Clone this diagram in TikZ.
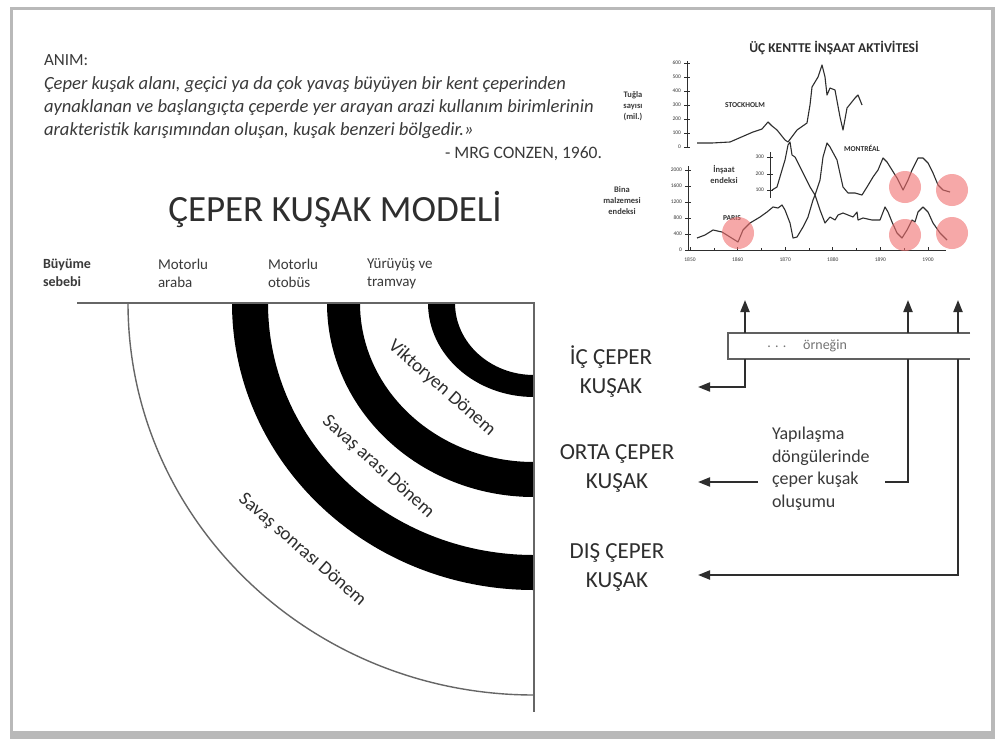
\documentclass[tikz,border=0pt]{standalone}
\usepackage{fontspec}
\setmainfont{Carlito}
\usetikzlibrary{arrows.meta}
\definecolor{txt}{HTML}{3A3A3A}
\definecolor{ink}{HTML}{2E2E2E}
\definecolor{dot}{HTML}{F06E6E}
\begin{document}
\begin{tikzpicture}[x=1pt,y=-1pt,
  every node/.style={inner sep=0pt, outer sep=0pt, text=txt},
  conn/.style={draw=ink, line width=2pt},
  arr/.style={conn, -{Triangle[length=12pt,width=9pt]}},
  thin/.style={draw=gray!80!black, line width=1.4pt},
  band/.style={fill=black},
  zone/.style={font=\fontsize{23}{29}\selectfont, align=center, text=ink},
  col/.style={anchor=north west, align=left, font=\fontsize{15}{18}\selectfont},
  period/.style={font=\fontsize{19}{22}\selectfont, text=ink},
  para/.style={anchor=base west, font=\itshape\fontsize{18.6}{20}\selectfont},
  tiny/.style={font=\fontsize{5.5}{6}\selectfont},
  clab/.style={font=\bfseries\fontsize{8.5}{11}\selectfont, align=center},
  curve/.style={draw=ink, line width=1.1pt, line join=round},
  ring/.style={fill=dot, fill opacity=0.6}
]
\useasboundingbox (0,0) rectangle (995,739);
% slide with shadow
\fill[white] (0,0) rectangle (995,739);
\fill[gray!55] (10,7) rectangle (995,739);
\fill[white] (13,10) rectangle (991,731);

% definition text
\node[anchor=base west, font=\fontsize{17}{20}\selectfont] (anim) at (44,65) {ANIM:};
\node[para] (d1) at (44,89) {Çeper kuşak alanı, geçici ya da çok yavaş büyüyen bir kent çeperinden};
\node[para] (d2) at (44,112) {aynaklanan ve başlangıçta çeperde yer arayan arazi kullanım birimlerinin};
\node[para] (d3) at (44,135) {arakteristik karışımından oluşan, kuşak benzeri bölgedir.»};
\node[anchor=base east, font=\fontsize{17.5}{20}\selectfont] (mrg) at (602,158) {- MRG CONZEN, 1960.};

% title
\node[anchor=base, font=\fontsize{37}{40}\selectfont, text=ink] (title) at (335,221) {ÇEPER KUŞAK MODELİ};

% column labels
\node[col, font=\bfseries\fontsize{14}{18}\selectfont] (c0) at (43,259) {Büyüme\\sebebi};
\node[col] (c1) at (158,259) {Motorlu\\araba};
\node[col] (c2) at (268,259) {Motorlu\\otobüs};
\node[col] (c3) at (367,259) {Yürüyüş ve\\tramvay};

% quadrant model
\fill[band] (232,303) arc[start angle=180,end angle=90,x radius=302,y radius=287] -- (534,555) arc[start angle=90,end angle=180,x radius=266,y radius=252] -- cycle;
\fill[band] (327,303) arc[start angle=180,end angle=90,x radius=207,y radius=194] -- (534,462) arc[start angle=90,end angle=180,x radius=174,y radius=159] -- cycle;
\fill[band] (428,303) arc[start angle=180,end angle=90,x radius=106,y radius=94] -- (534,375) arc[start angle=90,end angle=180,x radius=79,y radius=72] -- cycle;
\draw[thin] (128,303) arc[start angle=180,end angle=90,x radius=406,y radius=392];
\draw[thin] (77,303) -- (534,303) -- (534,712);

\node[period, rotate=-41] (vik) at (442,388) {Viktoryen Dönem};
\node[period, rotate=-42] (sa) at (378,467) {Savaş arası Dönem};
\node[period, rotate=-41] (ss) at (302,550) {Savaş sonrası Dönem};

% zone labels
\node[zone] (ic) at (611,372) {İÇ ÇEPER\\KUŞAK};
\node[zone] (orta) at (617,468) {ORTA ÇEPER\\KUŞAK};
\node[zone] (dis) at (617,567) {DIŞ ÇEPER\\KUŞAK};

% example bar
\draw[draw=gray!75!black, line width=2pt] (970,333) -- (728,333) -- (728,359) -- (970,359);
\node[font=\fontsize{14}{16}\selectfont, text=gray!90!black] (orn) at (825,346) {örneğin};
\node[font=\fontsize{14}{16}\selectfont, text=gray!90!black] (dots) at (777,347) {. . .};

\coordinate (u1) at (745,333); \coordinate (t1) at (745,300);
\coordinate (u2) at (908,333); \coordinate (t2) at (908,300);
\coordinate (u3) at (958,333); \coordinate (t3) at (958,300);
\draw[arr] (u1) -- (t1);
\draw[arr] (u2) -- (t2);
\draw[arr] (u3) -- (t3);

\coordinate (l1) at (745,359); \coordinate (e1) at (698,387);
\coordinate (l2) at (908,359); \coordinate (m2) at (885,482);
\coordinate (s2) at (758,482); \coordinate (e2) at (698,482);
\coordinate (l3) at (958,359); \coordinate (e3) at (698,575);
\draw[arr] (l1) |- (e1);
\draw[conn] (l2) |- (m2);
\draw[arr] (s2) -- (e2);
\draw[arr] (l3) |- (e3);

\node[anchor=north west, align=left, font=\fontsize{18}{22.5}\selectfont] (yap) at (772,427) {Yapılaşma\\döngülerinde\\çeper kuşak\\oluşumu};

% chart
\node[font=\bfseries\fontsize{13.5}{15}\selectfont, text=ink] (ctitle) at (834,48) {ÜÇ KENTTE İNŞAAT AKTİVİTESİ};
\node[clab] (tug) at (633,106) {Tuğla\\sayısı\\(mil.)};
\node[clab] (bina) at (622,201) {Bina\\malzemesi\\endeksi};
\node[clab] (ins) at (724,174) {İnşaat\\endeksi};
\node[font=\bfseries\fontsize{7.5}{8}\selectfont, text=ink] (sto) at (745,105) {STOCKHOLM};
\node[font=\bfseries\fontsize{7.5}{8}\selectfont, text=ink] (mon) at (862,148) {MONTRÉAL};
\node[font=\bfseries\fontsize{7.5}{8}\selectfont, text=ink] (par) at (732,218) {PARIS};

% Stockholm axis
\draw[ink, line width=1pt] (687,61) -- (687,147);
\foreach \yy/\lab in {63/600,77/500,91/400,105/300,119/200,133/100,147/0}{
  \draw[ink, line width=0.8pt] (684,\yy) -- (690,\yy);
  \node[tiny, anchor=east] at (681,\yy) {\lab};
}
% Paris axis
\draw[ink, line width=1pt] (688,166) -- (688,250) -- (946,250);
\foreach \yy/\lab in {170/2000,186/1600,202/1200,218/800,234/400,250/0}{
  \draw[ink, line width=0.8pt] (685,\yy) -- (691,\yy);
  \node[tiny, anchor=east] at (682,\yy) {\lab};
}
\foreach \xx/\lab in {690/1850,737.6/1860,785.2/1870,832.8/1880,880.4/1890,928/1900}{
  \draw[ink, line width=0.8pt] (\xx,247) -- (\xx,250);
  \node[tiny] at (\xx,260) {\lab};
}
\foreach \xx in {713.8,761.4,809,856.6,904.2}{
  \draw[ink, line width=0.6pt] (\xx,248) -- (\xx,250);
}
% Montreal inset axis
\draw[ink, line width=1pt] (770,152) -- (770,198);
\foreach \yy/\lab in {157/300,174/200,190/100}{
  \draw[ink, line width=0.8pt] (767,\yy) -- (773,\yy);
  \node[tiny, anchor=east] at (764,\yy) {\lab};
}

% curves
\draw[curve] plot coordinates {(697,143) (712,143) (730,142) (753,132) (762,129) (768,122) (772,126) (777,130) (785,140) (788,142) (797,130) (807,123) (810,105) (812,87) (818,77) (822,65) (825,77) (827,95) (830,88) (835,90) (840,117) (843,130) (847,108) (855,98) (858,95) (862,105)};
\draw[curve] plot coordinates {(772,190) (777,187) (782,170) (785,160) (788,145) (790,142) (792,155) (795,157) (798,163) (803,173) (810,187) (815,195) (820,180) (823,157) (827,143) (830,147) (837,160) (843,187) (848,193) (855,193) (862,195) (867,187) (873,177) (878,170) (883,158) (887,162) (892,170) (897,178) (903,190) (908,180) (912,170) (918,158) (923,158) (928,163) (933,173) (938,185) (943,190) (950,192)};
\draw[curve] plot coordinates {(697,238) (705,235) (713,230) (722,232) (730,237) (738,242) (743,230) (750,223) (760,217) (767,212) (773,207) (778,208) (782,205) (785,210) (790,223) (793,238) (797,237) (803,227) (808,217) (813,200) (815,195) (820,210) (825,223) (830,217) (835,220) (838,215) (843,213) (848,215) (853,217) (857,212) (858,220) (863,218) (872,220) (880,220) (885,207) (888,212) (892,222) (897,233) (902,238) (907,230) (912,220) (915,222) (918,212) (923,207) (928,212) (933,223) (940,233) (947,240)};

% highlighted cycles
\fill[ring] (738,233) circle[radius=16];
\fill[ring] (905,187) circle[radius=16];
\fill[ring] (952,190) circle[radius=16];
\fill[ring] (905,235) circle[radius=16];
\fill[ring] (952,233) circle[radius=16];
\end{tikzpicture}
\end{document}
